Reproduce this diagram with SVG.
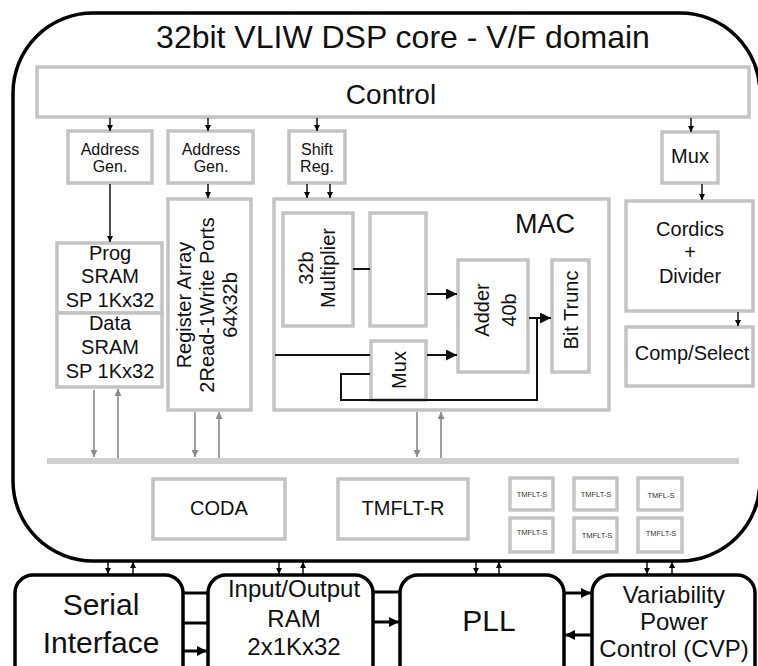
<svg xmlns="http://www.w3.org/2000/svg" width="758" height="666" viewBox="0 0 758 666">
<defs>
<style>
.t{font-family:"Liberation Sans",Arial,Helvetica,sans-serif;fill:#111;text-anchor:middle}
.gb{fill:#fff;stroke:#c3c3c3;stroke-width:3.5}
.bb{fill:#fff;stroke:#000;stroke-width:3.5}
.a{stroke:#000;stroke-width:1.4;fill:none;marker-end:url(#sa)}
.ga{stroke:#8a8a8a;stroke-width:1.6;fill:none;marker-end:url(#ga)}
.m{stroke:#111;stroke-width:2;fill:none}
.ma{stroke:#111;stroke-width:2;fill:none;marker-end:url(#ma)}
.k{stroke:#000;stroke-width:3;fill:none}
.ka{stroke:#000;stroke-width:3;fill:none;marker-end:url(#ka)}
.s{font-size:7.5px;fill:#333}
</style>
<marker id="sa" viewBox="0 0 10 10" refX="10" refY="5" markerWidth="6" markerHeight="6" markerUnits="userSpaceOnUse" orient="auto"><path d="M0,0 L10,5 L0,10 z" fill="#000"/></marker>
<marker id="ga" viewBox="0 0 10 10" refX="10" refY="5" markerWidth="7" markerHeight="7" markerUnits="userSpaceOnUse" orient="auto"><path d="M0,0 L10,5 L0,10 z" fill="#8a8a8a"/></marker>
<marker id="ma" viewBox="0 0 10 10" refX="10" refY="5" markerWidth="12" markerHeight="11" markerUnits="userSpaceOnUse" orient="auto"><path d="M0,0 L10,5 L0,10 z" fill="#111"/></marker>
<marker id="ka" viewBox="0 0 10 10" refX="10" refY="5" markerWidth="10" markerHeight="10" markerUnits="userSpaceOnUse" orient="auto"><path d="M0,0 L10,5 L0,10 z" fill="#000"/></marker>
</defs>

<g id="core">
<rect x="13" y="13" width="747" height="548" rx="80" fill="#fff" stroke="#000" stroke-width="3.5"/>
<text class="t" x="403" y="48" font-size="32">32bit VLIW DSP core - V/F domain</text>
</g>

<g id="bus"><line x1="47" y1="461" x2="739" y2="461" stroke="#cfcfcf" stroke-width="6"/></g>

<g id="control"><rect class="gb" x="37" y="67" width="712" height="50"/><text class="t" x="391" y="104" font-size="28">Control</text></g>

<g id="addrgen1"><rect class="gb" x="68" y="131" width="84" height="52"/><text class="t" x="110" y="155" font-size="16">Address</text><text class="t" x="110" y="172" font-size="16">Gen.</text></g>
<g id="addrgen2"><rect class="gb" x="168" y="131" width="85" height="52"/><text class="t" x="211" y="155" font-size="16">Address</text><text class="t" x="211" y="172" font-size="16">Gen.</text></g>
<g id="shiftreg"><rect class="gb" x="289" y="131" width="56" height="52"/><text class="t" x="317" y="155" font-size="16">Shift</text><text class="t" x="317" y="172" font-size="16">Reg.</text></g>
<g id="mux-top"><rect class="gb" x="662" y="132" width="56" height="51"/><text class="t" x="690" y="163" font-size="20">Mux</text></g>

<g id="progsram"><rect class="gb" x="57" y="243" width="105" height="70"/><text class="t" x="110" y="260" font-size="20">Prog</text><text class="t" x="110" y="283" font-size="20">SRAM</text><text class="t" x="110" y="307" font-size="20">SP 1Kx32</text></g>
<g id="datasram"><rect class="gb" x="57" y="313" width="105" height="74"/><text class="t" x="110" y="330" font-size="20">Data</text><text class="t" x="110" y="354" font-size="20">SRAM</text><text class="t" x="110" y="378" font-size="20">SP 1Kx32</text></g>

<g id="regarray"><rect class="gb" x="168" y="199" width="83" height="211"/>
<g transform="translate(0,305) rotate(-90)"><text class="t" x="0" y="191" font-size="20">Register Array</text><text class="t" x="0" y="214" font-size="20">2Read-1Write Ports</text><text class="t" x="0" y="237" font-size="20">64x32b</text></g></g>

<g id="mac"><rect class="gb" x="274" y="199" width="335" height="211"/><text class="t" x="545" y="233" font-size="27">MAC</text></g>
<g id="multiplier"><rect class="gb" x="283" y="213" width="70" height="113"/>
<g transform="translate(0,268) rotate(-90)"><text class="t" x="0" y="313" font-size="20">32b</text><text class="t" x="0" y="335" font-size="20">Multiplier</text></g></g>
<g id="reg-empty"><rect class="gb" x="370" y="213" width="56" height="113"/></g>
<g id="mux-mac"><rect class="gb" x="371" y="341" width="55" height="59"/>
<g transform="translate(0,370) rotate(-90)"><text class="t" x="0" y="406" font-size="20">Mux</text></g></g>
<g id="adder"><rect class="gb" x="458" y="260" width="70" height="112"/>
<g transform="translate(0,310) rotate(-90)"><text class="t" x="0" y="489" font-size="20">Adder</text><text class="t" x="0" y="516" font-size="20">40b</text></g></g>
<g id="bittrunc"><rect class="gb" x="552" y="260" width="37" height="112"/>
<g transform="translate(0,310) rotate(-90)"><text class="t" x="0" y="578" font-size="20">Bit Trunc</text></g></g>

<g id="cordics"><rect class="gb" x="626" y="201" width="127" height="110"/><text class="t" x="690" y="236" font-size="20">Cordics</text><text class="t" x="690" y="259" font-size="20">+</text><text class="t" x="690" y="283" font-size="20">Divider</text></g>
<g id="compselect"><rect class="gb" x="626" y="327" width="127" height="59"/><text class="t" x="692" y="360" font-size="20">Comp/Select</text></g>

<g id="coda"><rect class="gb" x="153" y="479" width="132" height="60"/><text class="t" x="219" y="515" font-size="20">CODA</text></g>
<g id="tmflt-r"><rect class="gb" x="338" y="479" width="130" height="60"/><text class="t" x="403" y="515" font-size="20">TMFLT-R</text></g>
<g id="tmflt-s1"><rect class="gb" x="510" y="478" width="43" height="32"/><text class="t s" x="532" y="497">TMFLT-S</text></g>
<g id="tmflt-s2"><rect class="gb" x="574" y="478" width="43" height="32"/><text class="t s" x="596" y="497">TMFLT-S</text></g>
<g id="tmflt-s3"><rect class="gb" x="638" y="478" width="44" height="32"/><text class="t s" x="661" y="498">TMFL-S</text></g>
<g id="tmflt-s4"><rect class="gb" x="510" y="518" width="43" height="34"/><text class="t s" x="532" y="535">TMFLT-S</text></g>
<g id="tmflt-s5"><rect class="gb" x="574" y="518" width="43" height="34"/><text class="t s" x="597" y="538">TMFLT-S</text></g>
<g id="tmflt-s6"><rect class="gb" x="638" y="518" width="44" height="34"/><text class="t s" x="661" y="536">TMFLT-S</text></g>

<g id="serial"><rect class="bb" x="15" y="575" width="168" height="110" rx="18"/><text class="t" x="101" y="615" font-size="30">Serial</text><text class="t" x="101" y="653" font-size="30">Interface</text></g>
<g id="ioram"><rect class="bb" x="208" y="575" width="165" height="110" rx="18"/><text class="t" x="294" y="597" font-size="24">Input/Output</text><text class="t" x="294" y="627" font-size="24">RAM</text><text class="t" x="294" y="655" font-size="24">2x1Kx32</text></g>
<g id="pll"><rect class="bb" x="400" y="575" width="164" height="110" rx="18"/><text class="t" x="489" y="631" font-size="30">PLL</text></g>
<g id="cvp"><rect class="bb" x="592" y="575" width="163" height="110" rx="18"/><text class="t" x="674" y="603" font-size="24">Variability</text><text class="t" x="674" y="630" font-size="24">Power</text><text class="t" x="674" y="657" font-size="24">Control (CVP)</text></g>

<g id="connectors">
<line class="a" x1="110" y1="118" x2="110" y2="131"/>
<line class="a" x1="208" y1="118" x2="208" y2="131"/>
<line class="a" x1="317" y1="118" x2="317" y2="131"/>
<line class="a" x1="691" y1="118" x2="691" y2="132"/>
<line class="a" x1="110" y1="184" x2="110" y2="242"/>
<line class="a" x1="208" y1="184" x2="208" y2="198"/>
<line class="a" x1="307" y1="184" x2="307" y2="198"/>
<line class="a" x1="330" y1="184" x2="330" y2="198"/>
<line class="a" x1="702" y1="184" x2="702" y2="200"/>
<line class="a" x1="738" y1="312" x2="738" y2="326"/>

<line class="ga" x1="94" y1="390" x2="94" y2="457"/>
<line class="ga" x1="118" y1="458" x2="118" y2="389"/>
<line class="ga" x1="195" y1="412" x2="195" y2="457"/>
<line class="ga" x1="219" y1="458" x2="219" y2="412"/>
<line class="ga" x1="417" y1="412" x2="417" y2="457"/>
<line class="ga" x1="441" y1="458" x2="441" y2="412"/>

<line class="m" x1="353" y1="269" x2="370" y2="269"/>
<line class="ma" x1="427" y1="294" x2="457" y2="294"/>
<line class="m" x1="275" y1="355" x2="370" y2="355"/>
<line class="ma" x1="427" y1="355" x2="457" y2="355"/>
<polyline class="m" points="370,374 341,374 341,400 537,400 537,318"/>
<line class="ma" x1="529" y1="318" x2="551" y2="318"/>

<line class="a" x1="108" y1="562" x2="108" y2="574"/>
<line class="a" x1="133" y1="574" x2="133" y2="562"/>
<line class="a" x1="279" y1="562" x2="279" y2="574"/>
<line class="a" x1="303" y1="574" x2="303" y2="562"/>
<line class="a" x1="476" y1="562" x2="476" y2="574"/>
<line class="a" x1="499" y1="574" x2="499" y2="562"/>
<line class="a" x1="647" y1="562" x2="647" y2="574"/>
<line class="a" x1="672" y1="574" x2="672" y2="562"/>

<line class="k" x1="183" y1="593" x2="208" y2="593"/>
<line class="k" x1="183" y1="623" x2="208" y2="623"/>
<line class="ka" x1="183" y1="651" x2="207" y2="651"/>
<line class="k" x1="373" y1="592" x2="400" y2="592"/>
<line class="ka" x1="373" y1="622" x2="399" y2="622"/>
<line class="ka" x1="564" y1="593" x2="591" y2="593"/>
<line class="ka" x1="592" y1="635" x2="565" y2="635"/>
</g>
</svg>
